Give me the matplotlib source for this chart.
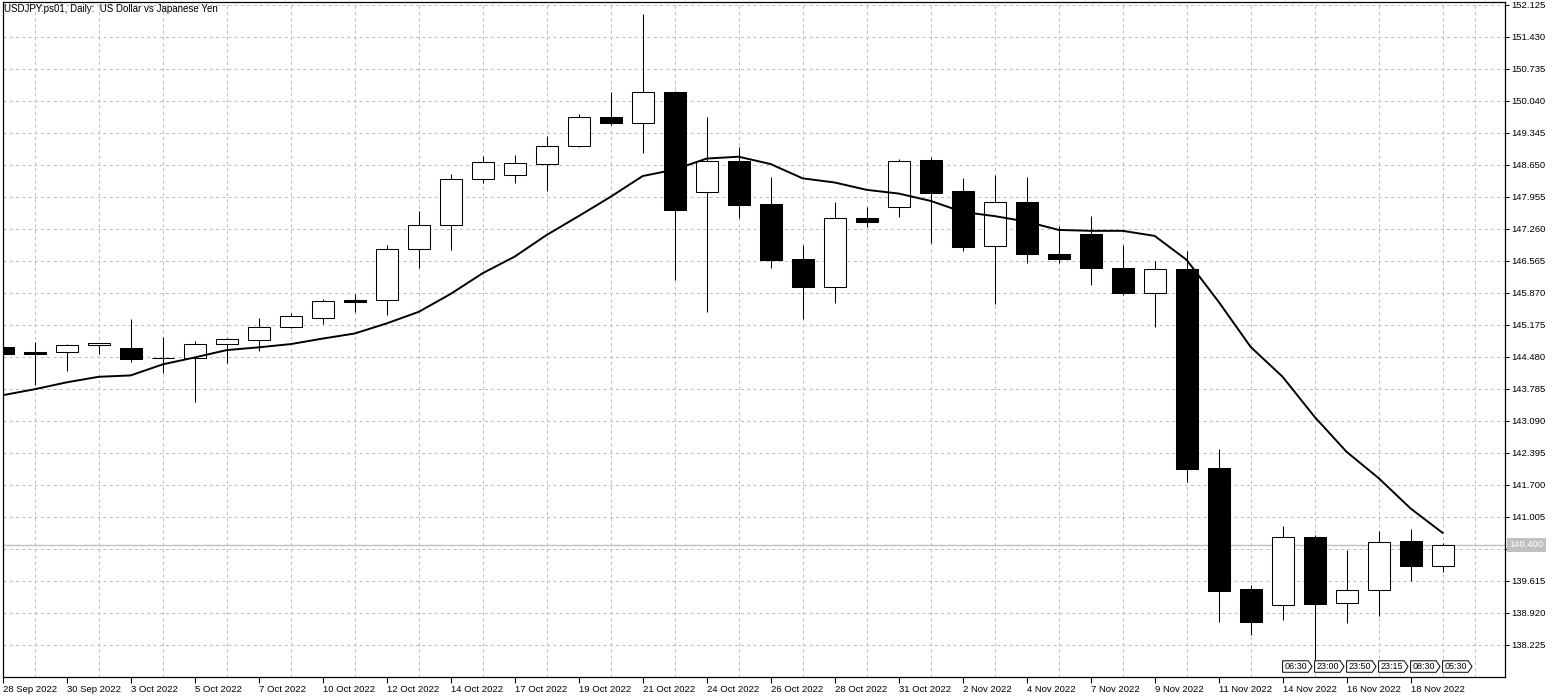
import matplotlib
matplotlib.use('Agg')
import matplotlib.pyplot as plt
import matplotlib.transforms as mtransforms
from matplotlib.patches import Polygon
import numpy as np

plt.rcParams['font.family'] = ['Liberation Sans', 'DejaVu Sans']

# Daily bars (broker time, includes Sunday bars)
barDates = ['28 Sep', '29 Sep', '30 Sep', '2 Oct', '3 Oct', '4 Oct', '5 Oct', '6 Oct', '7 Oct', '9 Oct',
            '10 Oct', '11 Oct', '12 Oct', '13 Oct', '14 Oct', '16 Oct', '17 Oct', '18 Oct', '19 Oct', '20 Oct',
            '21 Oct', '23 Oct', '24 Oct', '25 Oct', '26 Oct', '27 Oct', '28 Oct', '30 Oct', '31 Oct', '1 Nov',
            '2 Nov', '3 Nov', '4 Nov', '6 Nov', '7 Nov', '8 Nov', '9 Nov', '10 Nov', '11 Nov', '13 Nov',
            '14 Nov', '15 Nov', '16 Nov', '17 Nov', '18 Nov', '20 Nov']

openPrices = [144.69, 144.59, 144.58, 144.73, 144.67, 144.45, 144.45, 144.76, 144.86, 145.13,
              145.32, 145.72, 145.71, 146.82, 147.34, 148.34, 148.43, 148.68, 149.06, 149.69,
              149.56, 150.23, 148.07, 148.74, 147.80, 146.61, 145.99, 147.49, 147.73, 148.76,
              148.09, 146.88, 147.85, 146.72, 147.15, 146.41, 145.88, 146.39, 142.06, 139.44,
              139.09, 140.56, 139.13, 139.41, 140.48, 139.93]
highPrices = [144.76, 144.80, 144.76, 144.79, 145.31, 144.91, 144.82, 144.89, 145.32, 145.43,
              145.73, 145.84, 146.91, 147.65, 148.46, 148.85, 148.87, 149.28, 149.75, 150.23,
              151.93, 150.25, 149.70, 149.04, 148.40, 146.91, 147.85, 147.74, 148.77, 148.82,
              148.36, 148.43, 148.39, 147.33, 147.54, 146.91, 146.57, 146.79, 142.48, 139.53,
              140.80, 140.61, 140.29, 140.70, 140.74, 140.43]
lowPrices = [144.50, 143.87, 144.18, 144.55, 144.37, 144.14, 143.51, 144.35, 144.60, 145.10,
             145.20, 145.46, 145.39, 146.42, 146.80, 148.25, 148.26, 148.09, 149.04, 149.51,
             148.91, 146.15, 145.46, 147.50, 146.42, 145.30, 145.66, 147.31, 147.52, 146.96,
             146.79, 145.63, 146.53, 146.53, 146.04, 145.83, 145.14, 141.76, 138.72, 138.44,
             138.77, 137.90, 138.71, 138.86, 139.61, 139.80]
closePrices = [144.55, 144.55, 144.73, 144.78, 144.44, 144.45, 144.76, 144.86, 145.13, 145.37,
               145.69, 145.68, 146.82, 147.34, 148.34, 148.71, 148.69, 149.06, 149.69, 149.56,
               150.23, 147.67, 148.73, 147.79, 146.59, 145.99, 147.49, 147.42, 148.73, 148.05,
               146.87, 147.84, 146.72, 146.60, 146.42, 145.88, 146.39, 142.05, 139.40, 138.73,
               140.56, 139.12, 139.41, 140.47, 139.93, 140.40]

# Moving average line
maValues = [143.65, 143.78, 143.93, 144.05, 144.08, 144.32, 144.47, 144.63, 144.69, 144.76,
            144.88, 144.99, 145.21, 145.46, 145.85, 146.30, 146.66, 147.13, 147.54, 147.96,
            148.41, 148.55, 148.79, 148.83, 148.67, 148.36, 148.27, 148.11, 148.03, 147.87,
            147.63, 147.54, 147.42, 147.24, 147.22, 147.22, 147.11, 146.59, 145.68, 144.70,
            144.05, 143.18, 142.42, 141.85, 141.19, 140.66]

xTickLabels = ['28 Sep 2022', '30 Sep 2022', '3 Oct 2022', '5 Oct 2022', '7 Oct 2022', '10 Oct 2022',
               '12 Oct 2022', '14 Oct 2022', '17 Oct 2022', '19 Oct 2022', '21 Oct 2022', '24 Oct 2022',
               '26 Oct 2022', '28 Oct 2022', '31 Oct 2022', '2 Nov 2022', '4 Nov 2022', '7 Nov 2022',
               '9 Nov 2022', '11 Nov 2022', '14 Nov 2022', '16 Nov 2022', '18 Nov 2022']
yTickValues = [138.225, 138.920, 139.615, 140.310, 141.005, 141.700, 142.395, 143.090, 143.785, 144.480,
               145.175, 145.870, 146.565, 147.260, 147.955, 148.650, 149.345, 150.040, 150.735, 151.430,
               152.125]

currentPrice = 140.400
timeMarkerBars = [40, 41, 42, 43, 44, 45]
timeMarkerLabels = ['06:30', '23:00', '23:50', '23:15', '08:30', '05:30']

titleText = 'USDJPY.ps01, Daily:  US Dollar vs Japanese Yen'

fig = plt.figure(figsize=(15.58, 6.98), dpi=100)
ax = fig.add_axes([2.7 / 1558, 1 - 677 / 698, (1505 - 2.7) / 1558, 675 / 698])

x = np.arange(len(barDates))
o = np.array(openPrices)
h = np.array(highPrices)
l = np.array(lowPrices)
c = np.array(closePrices)

# Wicks first, then bodies on top
ax.vlines(x, l, h, color='black', linewidth=0.75, zorder=3)
bullish = c >= o
bodyColors = np.where(bullish, 'white', 'black')
ax.bar(x, np.abs(c - o), bottom=np.minimum(o, c), width=0.69, color=bodyColors,
       edgecolor='black', linewidth=0.75, zorder=4)

# Moving average
ax.plot(x, maValues, color='black', linewidth=1.4, zorder=5)

# Current price line
ax.axhline(currentPrice, color='#c0c0c0', linewidth=1.0, zorder=2)

# Limits
ax.set_xlim(0, 46.95)
ax.set_ylim(137.530, 152.190)

# Grid: a dashed line at each bar and each price tick
ax.set_xticks(np.arange(0, 47), minor=True)
ax.set_xticks(np.arange(0, 45, 2))
ax.set_xticklabels(xTickLabels, ha='left', fontsize=6.8)
ax.set_yticks(yTickValues)
ax.set_yticklabels(['%.3f' % v for v in yTickValues], fontsize=6.8)
ax.yaxis.tick_right()
ax.grid(True, which='minor', axis='x', color='#c0c0c0', linestyle=(0, (3, 3)), linewidth=0.75)
ax.grid(True, which='major', axis='y', color='#c0c0c0', linestyle=(0, (3, 3)), linewidth=0.75)
ax.set_axisbelow(True)

ax.tick_params(axis='x', which='major', length=4, width=0.75, pad=1.5, direction='out')
ax.tick_params(axis='x', which='minor', length=0)
ax.tick_params(axis='y', length=3, width=0.75, pad=1.5, direction='out')
for spine in ax.spines.values():
    spine.set_linewidth(0.9)
    spine.set_color('black')

# Current price label on the price scale, covering the tick label below it
priceTrans = mtransforms.blended_transform_factory(ax.transAxes, ax.transData)
ax.annotate('%.3f' % currentPrice, xy=(1.0, currentPrice), xycoords=priceTrans,
            xytext=(3.2, 0), textcoords='offset points', ha='left', va='center',
            fontsize=6.8, color='white', annotation_clip=False, zorder=10,
            bbox=dict(boxstyle='square,pad=0.3', facecolor='#c0c0c0', edgecolor='none'))

# Time markers at the bottom of the chart
markerTrans = mtransforms.blended_transform_factory(ax.transData, ax.transAxes)
for bar, label in zip(timeMarkerBars, timeMarkerLabels):
    y0, y1 = 0.007, 0.024
    pts = [(bar, y0), (bar + 0.8, y0), (bar + 0.92, (y0 + y1) / 2), (bar + 0.8, y1), (bar, y1)]
    ax.add_patch(Polygon(pts, closed=True, facecolor='white', edgecolor='black',
                         linewidth=0.7, transform=markerTrans, zorder=6))
    ax.text(bar + 0.05, (y0 + y1) / 2, label, transform=markerTrans, fontsize=6.5,
            ha='left', va='center', zorder=7)

fig.text(4 / 1558, 1 - 9 / 698, titleText, fontsize=7, ha='left', va='center')

fig.savefig('out.png', dpi=100, facecolor='white')
